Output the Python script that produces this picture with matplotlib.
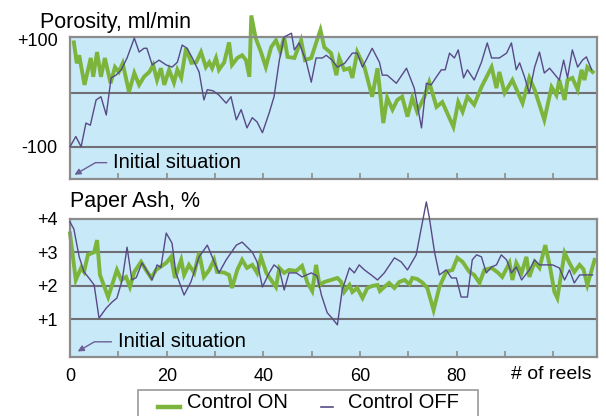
import matplotlib
matplotlib.use("Agg")
import matplotlib.pyplot as plt
from matplotlib.lines import Line2D
from matplotlib.patches import Rectangle

plt.rcParams.update({"font.family": ["Liberation Sans", "DejaVu Sans"]})

# Porosity, ml/min  (reel number, value)
por_on_x = [0.8, 1.4, 1.9, 3.0, 4.3, 4.8, 5.6, 6.4, 7.2, 8.4, 9.3, 10.1, 10.9, 12.2,
            13.3, 14.3, 15.3, 16.4, 17.2, 18.0, 18.8, 19.5, 20.5, 21.5, 22.2, 23.0,
            24.0, 25.1, 26.1, 27.1, 28.1, 28.8, 29.4, 30.2, 30.8, 31.9, 32.9, 33.5,
            34.6, 35.6, 36.4, 37.1, 37.5, 38.4, 39.5, 40.5, 41.6, 42.6, 43.5, 44.3,
            45.0, 46.4, 47.8, 48.6, 49.9, 50.9, 51.8, 52.6, 54.0, 55.1, 55.7, 56.7,
            57.8, 58.4, 59.4, 60.9, 62.5, 63.6, 64.8, 65.6, 66.7, 67.7, 68.7, 69.8,
            70.8, 71.8, 73.3, 74.3, 75.8, 77.0, 79.3, 80.3, 81.2, 82.2, 83.6, 85.1,
            87.2, 88.2, 88.8, 89.9, 91.5, 93.6, 95.0, 96.1, 98.1, 99.6, 100.6, 101.2,
            102.3, 102.9, 103.9, 105.0, 105.8, 106.4, 107.0, 108.1]
por_on_y = [94, 55, 70, 15, 65, 30, 76, 30, 65, 18, 48, 39, 55, 2,
            37, 15, 30, 39, 52, 24, 46, 15, 43, 19, 43, 28,
            83, 56, 57, 76, 48, 57, 46, 65, 43, 57, 94, 52,
            65, 70, 61, 30, 144, 102, 76, 48, 85, 98, 76, 104,
            67, 65, 98, 61, 65, 93, 117, 85, 74, 33, 65, 43,
            46, 28, 76, 48, -7, 46, -56, -9, -31, -13, -7, -44,
            -9, -35, -7, 20, -26, -17, -63, -17, -35, -7, -22, 11,
            48, 9, 39, 0, 24, -19, 28, 6, -50, 11, -4, 24,
            -13, 24, 28, 6, 43, 24, 48, 39]

por_off_x = [0.0, 1.2, 2.3, 3.3, 4.2, 5.4, 6.4, 7.5, 8.5, 9.5, 10.6, 11.8, 13.3, 14.3,
             15.3, 15.9, 17.0, 18.4, 19.9, 21.1, 22.2, 23.2, 24.2, 25.3, 26.7, 27.7,
             28.4, 29.6, 30.8, 32.3, 33.3, 34.4, 35.4, 36.6, 37.7, 38.7, 39.8, 41.2,
             42.2, 43.3, 44.3, 45.8, 46.4, 47.4, 48.9, 49.9, 50.9, 52.2, 53.0, 54.2,
             55.3, 56.8, 58.4, 59.4, 60.5, 62.5, 64.0, 64.6, 65.6, 67.5, 69.6, 71.2,
             72.7, 73.7, 74.7, 75.8, 76.8, 77.6, 78.5, 79.5, 80.3, 81.4, 82.2, 83.6,
             85.1, 86.3, 87.2, 88.8, 90.3, 91.3, 92.3, 93.0, 94.0, 95.0, 96.1, 97.1,
             98.1, 99.2, 101.2, 102.1, 102.9, 103.9, 105.0, 106.0, 106.8, 107.9]
por_off_y = [-100, -81, -100, -56, -60, -13, -7, -41, 28, 33, 43, 65, 102, 76,
             83, 83, 52, 61, 52, 48, 57, 89, 83, 65, 39, -13,
             6, 4, -4, -19, -7, -50, -31, -65, -46, -54, -74, -37,
             -7, 61, 104, 111, 80, 93, 57, 20, 65, 65, 70, 61,
             48, 55, 74, 74, 48, 83, 57, 33, 33, 18, 46, 9,
             -65, 18, 15, 30, 43, 43, 74, 65, 80, 28, 43, 24,
             57, 93, 65, 65, 74, 93, 43, 56, 30, 0, 48, 76,
             37, 46, 24, 61, 28, 80, 48, 61, 67, 43]

# Paper Ash, %
ash_on_x = [0.0, 1.2, 2.3, 2.9, 3.7, 5.0, 5.6, 6.2, 7.9, 8.7, 9.7, 10.6, 11.6, 12.4,
            13.3, 14.7, 15.7, 16.8, 17.8, 19.9, 20.9, 21.7, 23.0, 23.6, 24.6, 25.7,
            26.7, 27.7, 28.8, 29.8, 30.4, 31.9, 32.9, 33.5, 34.6, 35.6, 36.6, 37.7,
            38.7, 39.5, 40.6, 41.6, 42.6, 43.3, 44.3, 45.3, 46.8, 48.0, 49.1, 50.1,
            50.9, 51.6, 52.6, 54.0, 55.3, 56.1, 56.7, 57.8, 58.4, 59.4, 60.5, 61.5,
            62.5, 63.6, 64.1, 65.0, 66.0, 67.1, 68.1, 69.2, 70.2, 70.8, 71.8, 72.9,
            73.9, 75.2, 76.4, 77.8, 79.1, 80.1, 81.2, 82.6, 83.6, 84.7, 85.7, 87.2,
            88.5, 89.4, 90.9, 91.5, 92.3, 93.4, 94.4, 95.0, 96.1, 97.1, 98.3, 99.2,
            100.2, 100.8, 102.3, 103.3, 104.3, 105.4, 106.2, 107.0, 108.5]
ash_on_y = [3.57, 2.18, 2.54, 2.42, 2.93, 3.01, 3.37, 2.33, 1.67, 2.03, 2.48, 2.18, 2.27, 1.97,
            2.42, 2.72, 2.48, 2.24, 2.48, 2.69, 2.87, 2.24, 2.78, 2.33, 2.63, 2.39,
            2.99, 2.27, 2.48, 2.78, 2.42, 2.40, 2.33, 1.94, 2.48, 2.78, 2.54, 2.63,
            2.39, 2.87, 2.39, 2.18, 1.97, 2.54, 2.39, 2.48, 2.45, 2.60, 2.10, 1.85,
            2.63, 2.03, 2.12, 2.18, 2.24, 2.12, 1.82, 2.03, 1.82, 1.94, 1.64, 1.94,
            2.00, 2.03, 1.85, 1.97, 2.09, 1.94, 2.12, 2.18, 2.05, 2.24, 2.21, 2.10,
            1.94, 1.28, 1.97, 2.42, 2.48, 2.84, 2.72, 2.42, 2.33, 2.09, 2.48, 2.54,
            2.40, 2.27, 2.69, 2.18, 2.69, 2.39, 2.87, 2.27, 2.72, 2.54, 3.22, 2.63,
            1.82, 1.64, 2.99, 2.69, 2.42, 2.63, 2.50, 2.03, 2.78]

ash_off_x = [0.0, 0.8, 1.9, 2.9, 3.9, 5.0, 6.0, 7.5, 8.7, 9.7, 10.8, 11.8, 12.8, 13.7,
             14.9, 15.9, 17.0, 18.0, 18.8, 19.9, 21.1, 21.9, 23.6, 25.0, 26.7, 28.4,
             29.4, 30.8, 32.3, 34.4, 35.6, 37.7, 38.7, 39.8, 41.2, 42.2, 43.3, 44.3,
             45.3, 46.8, 48.0, 49.9, 51.1, 52.0, 53.2, 54.2, 55.3, 56.3, 57.8, 58.8,
             59.8, 60.9, 62.3, 63.6, 65.0, 67.1, 68.5, 69.8, 71.6, 72.7, 73.7, 74.3,
             75.4, 76.4, 77.8, 78.9, 79.9, 80.9, 82.2, 83.2, 84.1, 85.1, 86.1, 87.2,
             88.2, 89.2, 90.3, 91.3, 92.3, 93.4, 95.0, 96.1, 97.1, 99.8, 101.2, 102.3,
             103.3, 104.3, 105.4, 106.8, 108.1]
ash_off_y = [3.91, 3.70, 2.87, 2.42, 2.24, 2.03, 1.04, 1.34, 1.52, 1.64, 2.18, 3.16, 2.18, 2.25,
             2.69, 2.45, 2.18, 2.63, 2.55, 3.58, 3.28, 2.39, 1.73, 2.12, 2.87, 3.22,
             2.87, 2.39, 2.78, 3.22, 3.31, 3.01, 2.72, 1.97, 2.39, 2.63, 2.50, 1.88,
             2.39, 2.39, 2.27, 2.39, 2.30, 1.73, 1.20, 1.04, 0.84, 1.88, 2.54, 2.39,
             2.63, 2.48, 2.33, 2.18, 2.39, 2.84, 2.72, 2.48, 2.93, 3.76, 4.51, 4.06,
             3.01, 2.33, 2.48, 2.24, 2.24, 1.67, 1.67, 2.78, 2.93, 2.87, 2.39, 2.57,
             2.63, 2.93, 2.78, 2.39, 2.57, 2.18, 2.48, 2.78, 2.63, 2.63, 2.54, 2.18,
             2.48, 2.09, 2.33, 2.33, 2.33]

x_ticks = [0, 10, 20, 30, 40, 50, 60, 70, 80, 90, 100]
x_labels = ["0", "", "20", "", "40", "", "60", "", "80", "", ""]

BG = "#c8e9f8"
GREEN = "#7bb53c"
PURPLE = "#574a86"
GRID = "#6f6f74"
FRAME = "#8c8c8c"
ARROW = "#6b5f96"

W, H = 606, 416
fig = plt.figure(figsize=(W / 100, H / 100), dpi=100)
ax1 = fig.add_axes([70 / W, 1 - 179 / H, 527 / W, 142 / H])
ax2 = fig.add_axes([70 / W, 1 - 357 / H, 527 / W, 138 / H])


def style(ax):
    ax.set_facecolor(BG)
    for s in ax.spines.values():
        s.set_color(FRAME)
        s.set_linewidth(1.6)
    ax.set_xlim(0, 109)
    ax.set_xticks(x_ticks)
    ax.tick_params(axis="x", direction="in", length=4.5, width=1.2, color=FRAME,
                   labelsize=13, pad=8)
    ax.tick_params(axis="y", length=0, labelsize=13, pad=9)


style(ax1)
ax1.set_ylim(-160, 104)
ax1.set_yticks([100, -100])
ax1.set_yticklabels(["+100", "-100"])
ax1.set_xticklabels([])
for v in [0, -100]:
    ax1.axhline(v, color=GRID, lw=1.5, zorder=1)
ax1.plot(por_off_x, por_off_y, color=PURPLE, lw=1.0, zorder=3, clip_on=False)
ax1.plot(por_on_x, por_on_y, color=GREEN, lw=2.8, zorder=2, clip_on=False,
         solid_joinstyle="miter")

style(ax2)
ax2.set_ylim(-0.12, 4.0)
ax2.set_yticks([4, 3, 2, 1])
ax2.set_yticklabels(["+4", "+3", "+2", "+1"])
ax2.set_xticklabels(x_labels)
for v in [1, 2, 3]:
    ax2.axhline(v, color=GRID, lw=1.5, zorder=1)
ax2.plot(ash_on_x, ash_on_y, color=GREEN, lw=2.8, zorder=2, clip_on=False,
         solid_joinstyle="miter")
ax2.plot(ash_off_x, ash_off_y, color=PURPLE, lw=1.0, zorder=3, clip_on=False)
ax2.text(99.6, -0.13, "# of reels", transform=ax2.get_xaxis_transform(),
         ha="center", va="center", fontsize=14)

# "Initial situation" notes with arrows
for ax, tx, ty, ax_tip, ay_tip in [(ax1, 0.082, 0.115, 0.004, 0.02),
                                   (ax2, 0.091, 0.11, 0.01, 0.03)]:
    ax.text(tx, ty, "Initial situation", transform=ax.transAxes,
            ha="left", va="center", fontsize=14.5)
    ax.annotate("", xy=(ax_tip, ay_tip), xycoords="axes fraction",
                xytext=(tx - 0.007, ty), textcoords="axes fraction",
                arrowprops=dict(arrowstyle="-|>", color=ARROW, lw=1.0,
                                mutation_scale=9,
                                connectionstyle="angle,angleA=180,angleB=30,rad=0"))

fig.text(40 / W, 1 - 28 / H, "Porosity, ml/min", fontsize=15.5, va="baseline")
fig.text(70 / W, 1 - 207 / H, "Paper Ash, %", fontsize=15.5, va="baseline")

# legend box, cut by the bottom edge
fig.patches.append(Rectangle((138 / W, -0.02), 340 / W, (416 - 390) / H + 0.02,
                             transform=fig.transFigure, facecolor="white",
                             edgecolor="#a0a0a0", lw=1.3))
fig.add_artist(Line2D([158 / W, 180 / W], [1 - 407 / H] * 2, color=GREEN, lw=3.2))
fig.text(187 / W, 1 - 402 / H, "Control ON", fontsize=14.5, va="center")
fig.add_artist(Line2D([321 / W, 333 / W], [1 - 407 / H] * 2, color=PURPLE, lw=1.2))
fig.text(348 / W, 1 - 402 / H, "Control OFF", fontsize=14.5, va="center")

fig.savefig("out.png", dpi=100)
